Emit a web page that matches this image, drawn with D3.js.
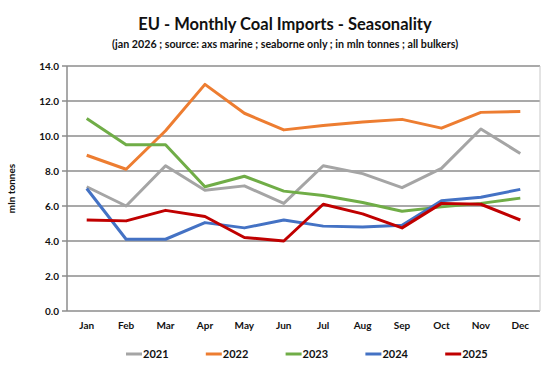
<!DOCTYPE html>
<html>
<head>
<meta charset="utf-8">
<script src="https://cdn.jsdelivr.net/npm/d3@7"></script>
<style>
  body { margin: 0; background: #fff; }
  svg text { font-family: Lato, "Open Sans", sans-serif; font-weight: bold; fill: #111; }
</style>
</head>
<body>
<svg id="chart" width="554" height="371"></svg>
<script>
const months = ['Jan', 'Feb', 'Mar', 'Apr', 'May', 'Jun', 'Jul', 'Aug', 'Sep', 'Oct', 'Nov', 'Dec'];
const yTicks = [0, 2, 4, 6, 8, 10, 12, 14];

const y2021 = [7.1, 6.0, 8.3, 6.9, 7.15, 6.15, 8.3, 7.85, 7.05, 8.15, 10.4, 9.0];
const y2022 = [8.9, 8.1, 10.3, 12.95, 11.3, 10.35, 10.6, 10.8, 10.95, 10.45, 11.35, 11.4];
const y2023 = [11.0, 9.5, 9.5, 7.1, 7.7, 6.85, 6.6, 6.2, 5.7, 5.95, 6.15, 6.45];
const y2024 = [7.0, 4.1, 4.1, 5.05, 4.75, 5.2, 4.85, 4.8, 4.9, 6.3, 6.5, 6.95];
const y2025 = [5.2, 5.15, 5.75, 5.4, 4.2, 4.0, 6.1, 5.55, 4.75, 6.15, 6.1, 5.2];

const series = [
    { name: '2021', values: y2021, color: '#A5A5A5' },
    { name: '2022', values: y2022, color: '#ED7D31' },
    { name: '2023', values: y2023, color: '#70AD47' },
    { name: '2024', values: y2024, color: '#4472C4' },
    { name: '2025', values: y2025, color: '#C00000' }
];

const svg = d3.select('#chart');
const plotL = 67, plotR = 540, plotT = 66, plotB = 311;

const x = d3.scaleBand().domain(months).range([plotL, plotR]);
const y = d3.scaleLinear().domain([0, 14]).range([plotB, plotT]);

// title
svg.append('text')
    .attr('x', 285).attr('y', 30)
    .attr('text-anchor', 'middle')
    .style('font-size', '16.5px')
    .text('EU - Monthly Coal Imports - Seasonality');
svg.append('text')
    .attr('x', 285).attr('y', 48)
    .attr('text-anchor', 'middle')
    .style('font-size', '10.7px')
    .text('(jan 2026 ; source: axs marine ; seaborne only ; in mln tonnes ; all bulkers)');

// grid
svg.append('g')
    .selectAll('line')
    .data(yTicks)
    .join('line')
    .attr('x1', plotL - 5).attr('x2', plotR)
    .attr('y1', d => y(d)).attr('y2', d => y(d))
    .attr('stroke', '#8c8c8c')
    .attr('stroke-width', 1.5);

svg.append('line')
    .attr('x1', plotR).attr('x2', plotR)
    .attr('y1', plotT).attr('y2', plotB)
    .attr('stroke', '#c8c8c8');

svg.append('line')
    .attr('x1', plotL).attr('x2', plotL)
    .attr('y1', plotT).attr('y2', plotB)
    .attr('stroke', '#8c8c8c')
    .attr('stroke-width', 1.5);

// y labels
svg.append('g')
    .selectAll('text')
    .data(yTicks)
    .join('text')
    .attr('x', plotL - 8)
    .attr('y', d => y(d) + 3.5)
    .attr('text-anchor', 'end')
    .style('font-size', '10px')
    .text(d => d.toFixed(1));

svg.append('text')
    .attr('transform', `translate(15, ${(plotT + plotB) / 2}) rotate(-90)`)
    .attr('text-anchor', 'middle')
    .style('font-size', '10px')
    .text('mln tonnes');

// x labels
svg.append('g')
    .selectAll('text')
    .data(months)
    .join('text')
    .attr('x', d => x(d) + x.bandwidth() / 2)
    .attr('y', plotB + 18)
    .attr('text-anchor', 'middle')
    .style('font-size', '10px')
    .text(d => d);

// lines
const line = d3.line()
    .x((d, i) => x(months[i]) + x.bandwidth() / 2)
    .y(d => y(d));

svg.append('g')
    .selectAll('path')
    .data(series)
    .join('path')
    .attr('d', d => line(d.values))
    .attr('fill', 'none')
    .attr('stroke', d => d.color)
    .attr('stroke-width', 3)
    .attr('stroke-linejoin', 'round');

// legend
const legend = svg.append('g')
    .selectAll('g')
    .data(series)
    .join('g')
    .attr('transform', (d, i) => `translate(${126 + i * 79.8}, 354)`);

legend.append('line')
    .attr('x1', 0).attr('x2', 16)
    .attr('stroke', d => d.color)
    .attr('stroke-width', 3);

legend.append('text')
    .attr('x', 17).attr('y', 4)
    .style('font-size', '11px')
    .text(d => d.name);
</script>
</body>
</html>
